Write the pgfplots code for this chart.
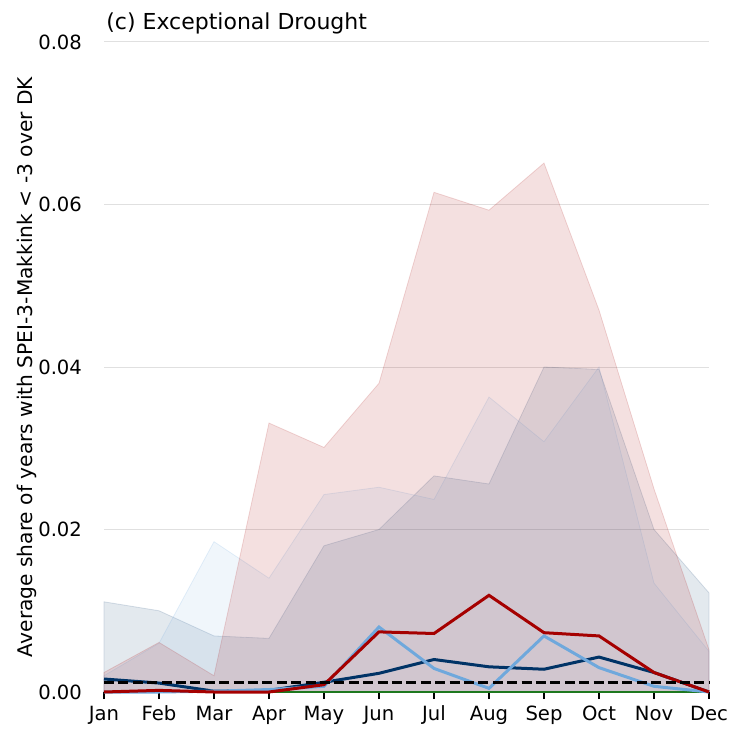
\documentclass[border=0pt]{standalone}
\usepackage{fontspec}
\setmainfont{DejaVu Sans}
\usepackage{pgfplots}
\pgfplotsset{compat=1.18}
\definecolor{dred}{RGB}{165,0,0}
\definecolor{navy}{RGB}{0,51,102}
\definecolor{lblue}{RGB}{111,168,220}
\definecolor{dgreen}{RGB}{30,120,30}
\begin{document}
\begin{tikzpicture}
\begin{axis}[
  scale only axis, width=302.5pt, height=325pt,
  xmin=0, xmax=11, ymin=0, ymax=0.08,
  clip=false,
  scaled y ticks=false,
  xtick={0,1,2,3,4,5,6,7,8,9,10,11},
  xticklabels={Jan,Feb,Mar,Apr,May,Jun,Jul,Aug,Sep,Oct,Nov,Dec},
  ytick={0,0.02,0.04,0.06,0.08},
  yticklabels={0.00,0.02,0.04,0.06,0.08},
  axis x line*=bottom, axis y line*=left,
  y axis line style={draw=none},
  x axis line style={black, line width=0.8pt, -},
  ymajorgrids, grid style={color=black!12, line width=0.5pt},
  x tick style={black, line width=0.6pt}, major tick length=3.5pt, tick align=outside,
  ytick style={draw=none},
  tick label style={font=\fontsize{9.8}{12}\selectfont},
  yticklabel style={xshift=-4pt},
  ylabel={Average share of years with SPEI-3-Makkink < -3 over DK},
  ylabel style={font=\fontsize{10.1}{12}\selectfont, at={(axis description cs:-0.1174,0.5)}, anchor=base, inner sep=0pt},
  title={(c) Exceptional Drought},
  title style={at={(axis description cs:0,1)}, anchor=base west, yshift=0pt, xshift=1pt, inner sep=0pt, font=\fontsize{11}{13}\selectfont},
]
% shaded ranges
\addplot[draw=navy, draw opacity=0.15, fill=navy, fill opacity=0.11] coordinates {(0,0.0111)(1,0.0100)(2,0.0069)(3,0.0066)(4,0.0180)(5,0.0200)(6,0.0266)(7,0.0256)(8,0.0400)(9,0.0397)(10,0.0200)(11,0.0122)} \closedcycle;
\addplot[draw=lblue, draw opacity=0.18, fill=lblue, fill opacity=0.1] coordinates {(0,0.0020)(1,0.0060)(2,0.0185)(3,0.0140)(4,0.0243)(5,0.0252)(6,0.0237)(7,0.0363)(8,0.0308)(9,0.0400)(10,0.0134)(11,0.0050)} \closedcycle;
\addplot[draw=dred, draw opacity=0.15, fill=dred, fill opacity=0.12] coordinates {(0,0.0024)(1,0.0061)(2,0.0020)(3,0.0331)(4,0.0301)(5,0.0380)(6,0.0615)(7,0.0593)(8,0.0651)(9,0.0470)(10,0.0250)(11,0.0052)} \closedcycle;
% lines
\addplot[dgreen, line width=1pt] coordinates {(0,0)(1,0)(2,0)(3,0)(4,0)(5,0)(6,0)(7,0)(8,0)(9,0)(10,0)(11,0)};
\addplot[navy, line width=1.5pt] coordinates {(0,0.0016)(1,0.0011)(2,0.0001)(3,0.0002)(4,0.0012)(5,0.0023)(6,0.0040)(7,0.0031)(8,0.0028)(9,0.0043)(10,0.0024)(11,0.0)};
\addplot[lblue, line width=1.5pt] coordinates {(0,0.0)(1,0.0)(2,0.0001)(3,0.0003)(4,0.0007)(5,0.0080)(6,0.0029)(7,0.00045)(8,0.0069)(9,0.0030)(10,0.0007)(11,0.0)};
\addplot[dred, line width=1.5pt] coordinates {(0,0.0)(1,0.0002)(2,0.0)(3,0.0)(4,0.0009)(5,0.0074)(6,0.0072)(7,0.0119)(8,0.0073)(9,0.0069)(10,0.0024)(11,0.0)};
\addplot[black, line width=1.3pt, dash pattern=on 5pt off 2.2pt] coordinates {(0,0.0012)(11,0.0012)};
\end{axis}
\pgfresetboundingbox
\path ([xshift=-52pt,yshift=-21.5pt]current axis.south west) rectangle ([xshift=10.5pt,yshift=21pt]current axis.north east);
\end{tikzpicture}
\end{document}
